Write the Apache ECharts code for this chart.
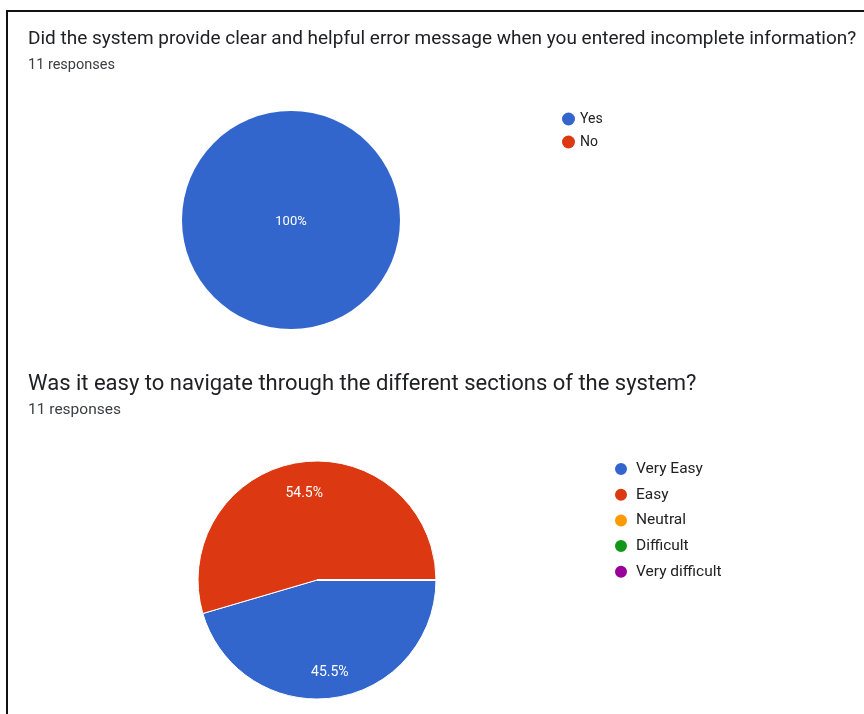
<!DOCTYPE html>
<html>
<head>
<meta charset="utf-8">
<script src="https://cdn.jsdelivr.net/npm/echarts@6/dist/echarts.min.js"></script>
<style>html,body{margin:0;padding:0;background:#fff;}#c{width:864px;height:714px;}</style>
</head>
<body>
<div id="c"></div>
<script>
const q1Title = 'Did the system provide clear and helpful error message when you entered incomplete information?';
const q1Sub = '11 responses';
const q1Categories = ['Yes', 'No'];
const q1Values = [11, 0];
const q1Colors = ['#3366cc', '#dc3912'];

const q2Title = 'Was it easy to navigate through the different sections of the system?';
const q2Sub = '11 responses';
const q2Categories = ['Very Easy', 'Easy', 'Neutral', 'Difficult', 'Very difficult'];
const q2Values = [5, 6, 0, 0, 0];
const q2Colors = ['#3366cc', '#dc3912', '#ff9900', '#109618', '#990099'];

const FONT = 'Roboto, Arial, sans-serif';
const chart = echarts.init(document.getElementById('c'));

function pctFormatter(values) {
  const total = values.reduce((a, b) => a + b, 0);
  return p => p.value > 0 ? (Math.round(p.value / total * 1000) / 10) + '%' : '';
}

chart.setOption({
  animation: false,
  title: [
    { text: q1Title, left: 28, top: 30, padding: 0, textStyle: { fontFamily: FONT, fontSize: 19, fontWeight: 'normal', color: '#202124' } },
    { text: q1Sub, left: 28, top: 58, padding: 0, textStyle: { fontFamily: FONT, fontSize: 14.5, fontWeight: 'normal', color: '#3c4043' } },
    { text: q2Title, left: 28, top: 373, padding: 0, textStyle: { fontFamily: FONT, fontSize: 22, fontWeight: 'normal', color: '#202124' } },
    { text: q2Sub, left: 28, top: 402, padding: 0, textStyle: { fontFamily: FONT, fontSize: 15.5, fontWeight: 'normal', color: '#3c4043' } }
  ],
  legend: [
    { data: q1Categories, orient: 'vertical', left: 557, top: 107, icon: 'circle', itemWidth: 13, itemHeight: 13, itemGap: 9,
      textStyle: { fontFamily: FONT, fontSize: 14, color: '#222' } },
    { data: q2Categories, orient: 'vertical', left: 608, top: 456, icon: 'circle', itemWidth: 14, itemHeight: 14, itemGap: 11.5 - 1.8,
      textStyle: { fontFamily: FONT, fontSize: 15.5, color: '#222', padding: [0, 0, 0, 3] } }
  ],
  graphic: [
    { type: 'polyline', shape: { points: [[7, 714], [7, 11], [864, 11]] }, style: { stroke: '#111', lineWidth: 2, fill: null } }
  ],
  series: [
    {
      type: 'pie', legendIndex: 0, center: [291, 220], radius: [0, 109], startAngle: 90, clockwise: true,
      data: q1Categories.map((n, i) => ({ name: n, value: q1Values[i], itemStyle: { color: q1Colors[i] } })),
      itemStyle: { borderColor: '#fff', borderWidth: 0 },
      label: { show: true, position: 'center', formatter: pctFormatter(q1Values), color: '#fff', fontFamily: FONT, fontSize: 13, offset: [0, 2] },
      labelLine: { show: false }, emphasis: { disabled: true }, stillShowZeroSum: false
    },
    {
      type: 'pie', center: [317, 580], radius: [0, 119], startAngle: 0, clockwise: true,
      data: q2Categories.map((n, i) => ({ name: n, value: q2Values[i], itemStyle: { color: q2Colors[i] } })),
      itemStyle: { borderColor: '#fff', borderWidth: 1 },
      label: { show: false }, labelLine: { show: false }, emphasis: { disabled: true }
    },
    {
      type: 'pie', center: [317, 580], radius: [55, 119], startAngle: 0, clockwise: true, silent: true,
      data: q2Categories.map((n, i) => ({ name: n, value: q2Values[i] })),
      itemStyle: { color: 'rgba(0,0,0,0)', borderWidth: 0 },
      label: { show: true, position: 'inside', formatter: pctFormatter(q2Values), color: '#fff', fontFamily: FONT, fontSize: 14, offset: [0, 3] },
      labelLine: { show: false }, emphasis: { disabled: true }
    }
  ]
});
</script>
</body>
</html>
